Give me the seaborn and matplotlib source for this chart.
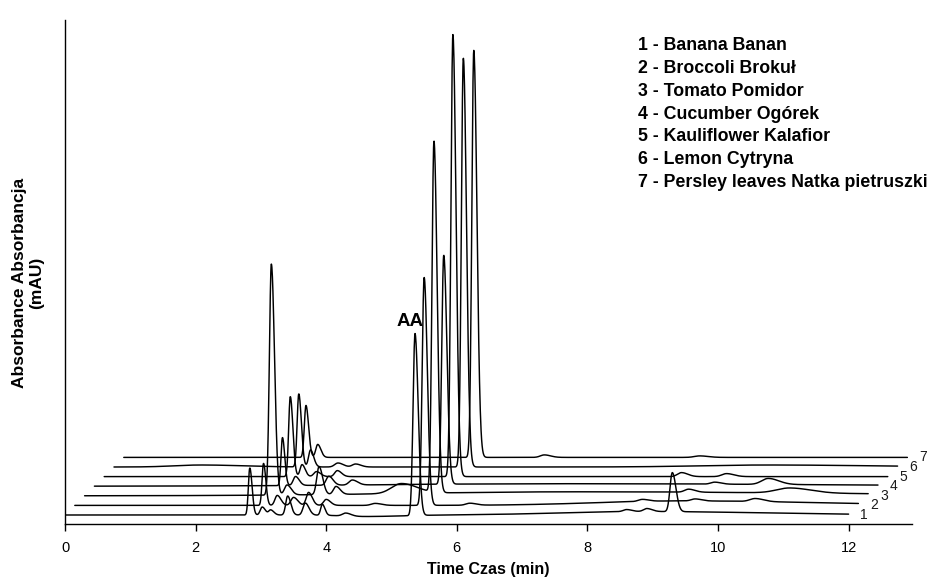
import numpy as np
import pandas as pd
import matplotlib
matplotlib.use("Agg")
import matplotlib.pyplot as plt
import seaborn as sns

# ---------------- data ----------------
sample_labels = [
    "1 - Banana Banan",
    "2 - Broccoli Brokuł",
    "3 - Tomato Pomidor",
    "4 - Cucumber Ogórek",
    "5 - Kauliflower Kalafior",
    "6 - Lemon Cytryna",
    "7 - Persley leaves Natka pietruszki",
]
trace_ids = ["1", "2", "3", "4", "5", "6", "7"]

# peak tables: (retention time [min], height [mAU], width [min])
banana_peaks = [(2.83, 47, 0.022), (3.02, 8, 0.03), (3.15, 5, 0.03), (3.41, 19, 0.03),
                (3.68, 12, 0.035), (3.94, 11, 0.025), (4.30, 3, 0.05), (4.6, -1.5, 0.35),
                (5.36, 182, 0.03), (8.8, 3.5, 1.2), (8.60, 2, 0.05), (8.91, 3, 0.05),
                (9.30, 39, 0.035)]
broccoli_peaks = [(2.89, 42, 0.022), (3.10, 10, 0.035), (3.35, 8, 0.04), (3.58, 13, 0.035),
                  (3.85, 6, 0.04), (4.60, 2, 0.06), (5.35, 228, 0.03), (6.05, 2, 0.06),
                  (9.3, 4.5, 1.3), (8.69, 2, 0.06), (9.50, 2, 0.06), (10.42, 3, 0.08)]
tomato_peaks = [(2.86, 231, 0.03), (3.10, 10, 0.04), (3.59, 28, 0.035), (3.85, 8, 0.04),
                (4.85, 10, 0.15), (7.5, 4, 2.5), (5.35, 351, 0.03), (9.25, 3, 0.06),
                (10.80, 5, 0.2)]
cucumber_peaks = [(2.88, 48, 0.022), (3.08, 9, 0.035), (3.59, 9, 0.04), (3.95, 5, 0.05),
                  (7.0, 2.5, 2.5), (5.35, 229, 0.03), (9.50, 2, 0.06), (10.32, 6, 0.1)]
cauliflower_peaks = [(2.85, 80, 0.025), (3.03, 12, 0.03), (3.25, 5, 0.04), (3.57, 6, 0.04),
                     (5.34, 442, 0.03), (8.84, 4, 0.06), (9.53, 3, 0.07)]
lemon_peaks = [(1.33, 2, 0.4), (2.83, 73, 0.025), (3.01, 17, 0.03), (3.43, 4, 0.05),
               (3.70, 3, 0.05), (5.35, 409, 0.03), (10.0, 2, 1.0)]
parsley_peaks = [(2.79, 52, 0.025), (2.97, 13, 0.03), (5.36, 407, 0.03), (6.44, 2.5, 0.06),
                 (8.82, 1.5, 0.08)]

all_peaks = [banana_peaks, broccoli_peaks, tomato_peaks, cucumber_peaks,
             cauliflower_peaks, lemon_peaks, parsley_peaks]

run_start, run_end = 0.0, 12.0
x_step = 0.15      # time shift of each successive trace
y_base = 9.0       # vertical offset of trace 1
y_step = 9.6       # vertical shift of each successive trace


def trace_signal(t, peaks):
    y = np.zeros_like(t)
    for rt, h, w in peaks:
        s = np.where(t < rt, w, w * 1.6)
        y += h * np.exp(-0.5 * ((t - rt) / s) ** 2)
    return y


t = np.linspace(run_start, run_end, 3001)
frames = []
for i, (tid, peaks) in enumerate(zip(trace_ids, all_peaks)):
    frames.append(pd.DataFrame({
        "time": t + i * x_step,
        "abs": trace_signal(t, peaks) + y_base + i * y_step,
        "trace": tid,
    }))
df = pd.concat(frames, ignore_index=True)

# ---------------- plot ----------------
sns.set_theme(style="white")
plt.rcParams["font.family"] = ["Liberation Sans", "DejaVu Sans"]
plt.rcParams["text.color"] = "black"

fig = plt.figure(figsize=(9.35, 5.83), dpi=100)
ax = fig.add_axes([65 / 935, 59 / 583, 847 / 935, 504 / 583])

sns.lineplot(data=df, x="time", y="abs", units="trace", estimator=None,
             color="black", linewidth=1.05, sort=False, ax=ax)

ax.set_xlim(0, 847 / 65.3)
ax.set_ylim(0, 504)
ax.set_xticks(range(0, 13, 2))
ax.set_yticks([])
for s in ["top", "right"]:
    ax.spines[s].set_visible(False)
for s in ["left", "bottom"]:
    ax.spines[s].set_color("black")
    ax.spines[s].set_linewidth(1.0)
ax.tick_params(axis="x", bottom=True, direction="out", length=5, width=1,
               color="black", labelsize=10.5, pad=7, labelcolor="black")

ax.set_xlabel("Time Czas (min)", fontsize=11.5, fontweight="bold", labelpad=5,
              color="black")
ax.set_ylabel("")
fig.text(28 / 935, 1 - 283 / 583, "Absorbance Absorbancja\n(mAU)", rotation=90,
         ha="center", va="center", multialignment="center",
         fontsize=12.5, fontweight="bold", linespacing=1.15, color="black")

# trace numbers at the end of each trace
for i, tid in enumerate(trace_ids):
    ax.text(run_end + i * x_step + 0.18, y_base + i * y_step, tid,
            fontsize=10, color="#1a1a1a", ha="left", va="center")

# AA label
ax.text(5.28, 203, "AA", fontsize=13.5, fontweight="bold", ha="center", va="center",
        color="black")

# legend block
for k, lab in enumerate(sample_labels):
    ax.text(8.78, 478 - k * 22.7, lab, fontsize=12.8, fontweight="bold",
            ha="left", va="center", color="black")

fig.savefig("out.png", dpi=100)
